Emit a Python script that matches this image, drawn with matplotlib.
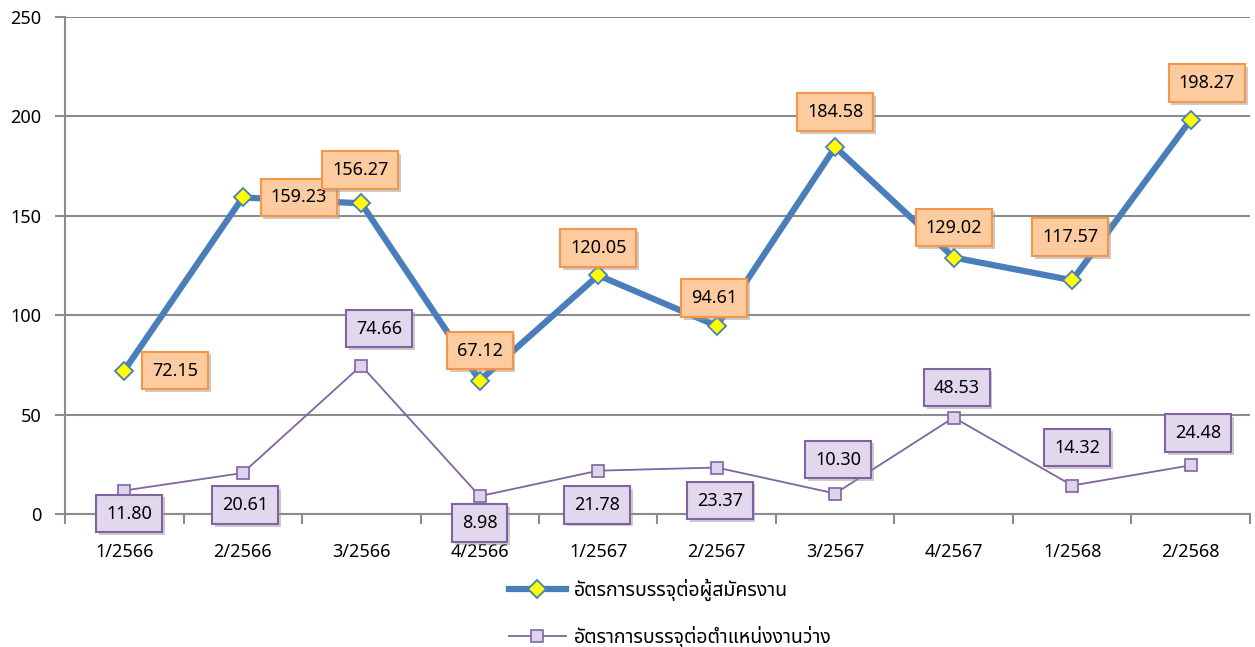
import matplotlib
matplotlib.use('Agg')
import matplotlib.pyplot as plt
import matplotlib.patheffects as pe
import numpy as np

# data
quarters = ['1/2566', '2/2566', '3/2566', '4/2566', '1/2567',
            '2/2567', '3/2567', '4/2567', '1/2568', '2/2568']
per_applicant = [72.15, 159.23, 156.27, 67.12, 120.05, 94.61, 184.58, 129.02, 117.57, 198.27]
per_vacancy = [11.80, 20.61, 74.66, 8.98, 21.78, 23.37, 10.30, 48.53, 14.32, 24.48]
label_applicant = 'อัตรการบรรจุต่อผู้สมัครงาน'
label_vacancy = 'อัตราการบรรจุต่อตำแหน่งงานว่าง'

# label offsets (pixels) for the value boxes
off_applicant = [(51, 0), (56, 0), (-1, 33), (0, 30), (0, 27), (-3, 28), (0, 35), (0, 30), (-2, 43), (16, 37)]
off_vacancy = [(5, -23), (2, -32), (18, 37), (0, -27), (-1, -34), (3, -33), (3, 34), (3, 30), (5, 38), (7, 32)]

thai_fonts = ['Noto Sans Thai', 'Sarabun', 'Noto Sans', 'DejaVu Sans']
plt.rcParams['font.family'] = ['Noto Sans', 'DejaVu Sans']

fig = plt.figure(figsize=(12.55, 6.47), dpi=100)
ax = fig.add_axes([0.0518, 0.2056, 0.9442, 0.7681])

x = np.arange(len(quarters))
grid_c = '#8c8c8c'

ax.plot(x, per_applicant, color='#4a7ebb', lw=4.5, marker='D', ms=9,
        mfc='#ffff00', mec='#4a7ebb', mew=1.3, label=label_applicant, zorder=4)
ax.plot(x, per_vacancy, color='#8064a2', lw=1.3, marker='s', ms=8.5,
        mfc='#ddd3ea', mec='#8064a2', mew=1.2, label=label_vacancy, zorder=3)

shadow = [pe.withSimplePatchShadow(offset=(2, -2), shadow_rgbFace='#999999', alpha=0.5)]

for xi, v, o in zip(x, per_applicant, off_applicant):
    t = ax.annotate(f'{v:.2f}', (xi, v), xytext=o, textcoords='offset pixels',
                    ha='center', va='center', fontsize=13, zorder=6,
                    bbox=dict(boxstyle='square,pad=0.55', fc='#fccba0', ec='#f79646', lw=1.5))
    t.get_bbox_patch().set_path_effects(shadow)

for xi, v, o in zip(x, per_vacancy, off_vacancy):
    t = ax.annotate(f'{v:.2f}', (xi, v), xytext=o, textcoords='offset pixels',
                    ha='center', va='center', fontsize=13, zorder=6,
                    bbox=dict(boxstyle='square,pad=0.55', fc='#e2d8ee', ec='#8064a2', lw=1.5))
    t.get_bbox_patch().set_path_effects(shadow)

ax.set_xlim(-0.5, len(quarters) - 0.5)
ax.set_ylim(0, 250)
ax.set_yticks(np.arange(0, 251, 50))
ax.set_xticks(x)
ax.set_xticklabels(quarters)
ax.set_xticks(np.arange(-0.5, len(quarters), 1), minor=True)
ax.tick_params(axis='x', which='major', length=0, labelsize=13, pad=21)
ax.tick_params(axis='x', which='minor', length=7, color=grid_c, width=1.5)
ax.tick_params(axis='y', length=7, color=grid_c, width=1.5, labelsize=13, pad=10)

ax.grid(axis='y', color=grid_c, lw=1.5)
ax.set_axisbelow(True)
for s in ['top', 'right']:
    ax.spines[s].set_visible(False)
for s in ['left', 'bottom']:
    ax.spines[s].set_color(grid_c)
    ax.spines[s].set_linewidth(1.5)

fig.legend(loc='upper center', bbox_to_anchor=(0.534, 0.133), frameon=False,
           prop={'family': thai_fonts, 'size': 14}, labelspacing=1.3,
           handlelength=2.9, handletextpad=0.4)

fig.savefig('out.png', dpi=100)
